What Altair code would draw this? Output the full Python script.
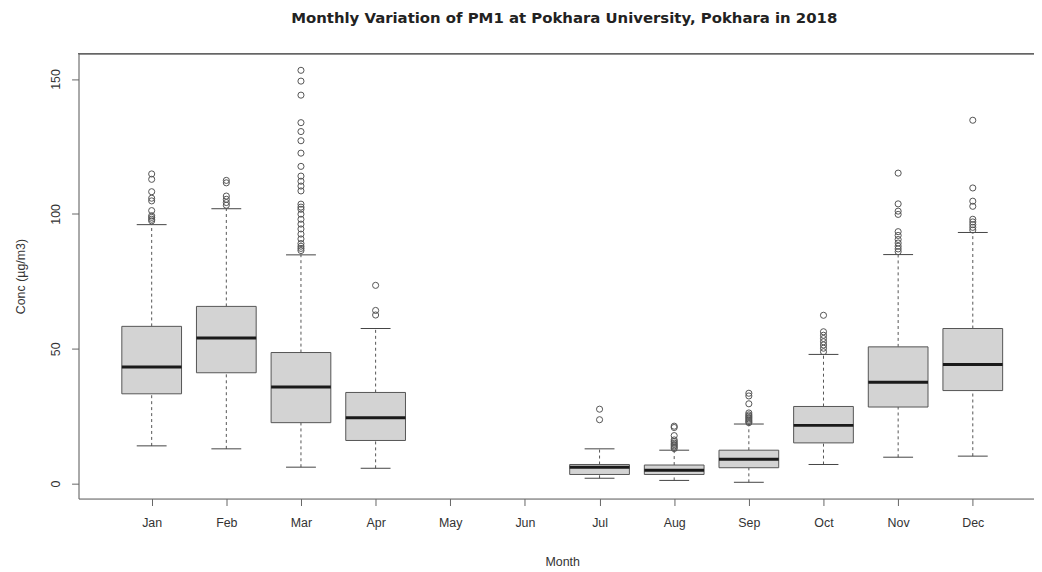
import altair as alt
import pandas as pd

months = ["Jan", "Feb", "Mar", "Apr", "May", "Jun", "Jul", "Aug", "Sep", "Oct", "Nov", "Dec"]

# Box statistics (months with data; May and Jun have none)
box_months = ["Jan", "Feb", "Mar", "Apr", "Jul", "Aug", "Sep", "Oct", "Nov", "Dec"]
whisker_low = [14.0, 12.9, 6.1, 5.7, 2.0, 1.2, 0.5, 7.1, 9.8, 10.2]
q1 = [33.3, 41.1, 22.6, 16.0, 3.4, 3.4, 5.9, 15.1, 28.4, 34.5]
median = [43.2, 54.0, 35.8, 24.4, 6.1, 5.0, 9.0, 21.6, 37.6, 44.2]
q3 = [58.3, 65.7, 48.6, 33.8, 7.1, 6.9, 12.4, 28.6, 50.7, 57.5]
whisker_high = [96.0, 101.9, 84.8, 57.5, 12.9, 12.4, 22.1, 47.9, 84.9, 93.1]

out_jan = [114.8, 112.8, 108.2, 105.8, 104.8, 101.2, 99.3, 98.7, 98.0, 97.4]
out_feb = [112.4, 111.5, 106.6, 105.4, 104.2, 103.2]
out_mar = [153.2, 149.2, 144.0, 133.8, 130.5, 127.1, 122.5, 117.6, 114.0, 112.1,
           110.3, 108.5, 103.6, 102.5, 101.7, 99.9, 98.0, 96.2, 94.4, 92.5,
           90.7, 89.0, 88.0, 87.2, 86.4]
out_apr = [73.5, 64.2, 62.5]
out_jul = [27.6, 23.7]
out_aug = [21.3, 20.8, 17.8, 16.2, 15.6, 15.0, 14.5, 14.0, 13.5, 13.0]
out_sep = [33.5, 32.5, 29.6, 26.2, 25.5, 25.0, 24.5, 24.0, 23.5, 23.0, 22.6]
out_oct = [62.4, 56.3, 55.0, 53.8, 52.6, 51.4, 50.2, 48.9]
out_nov = [115.1, 103.7, 101.0, 99.8, 93.4, 92.0, 90.5, 89.2, 88.0, 87.0, 86.0]
out_dec = [134.7, 109.6, 104.7, 102.8, 98.0, 97.0, 96.0, 95.0, 94.0]

outlier_lists = {
    "Jan": out_jan, "Feb": out_feb, "Mar": out_mar, "Apr": out_apr,
    "Jul": out_jul, "Aug": out_aug, "Sep": out_sep, "Oct": out_oct,
    "Nov": out_nov, "Dec": out_dec,
}

box_df = pd.DataFrame({
    "month": box_months,
    "m": [months.index(b) + 1 for b in box_months],
    "lo": whisker_low, "q1": q1, "med": median, "q3": q3, "hi": whisker_high,
})
out_rows = []
for mon, vals in outlier_lists.items():
    for v in vals:
        out_rows.append({"month": mon, "m": months.index(mon) + 1, "value": v})
out_df = pd.DataFrame(out_rows)

FONT = "Liberation Sans"
W, H = 962, 448
label_expr = "[" + ",".join("'%s'" % m for m in months) + "][datum.value - 1]"

xscale = alt.Scale(domain=[0.02, 12.82], nice=False, zero=False)
yscale = alt.Scale(domain=[-5.53, 159.4], nice=False, zero=False)

xaxis = alt.Axis(values=list(range(1, 13)), labelExpr=label_expr, title="Month",
                 grid=False, domainColor="#666", tickColor="#666", tickSize=7,
                 labelPadding=11, labelFont=FONT, labelFontSize=12.5, labelColor="#333",
                 labelFlush=False, labelOverlap=False,
                 titleFont=FONT, titleFontSize=12.5, titleFontWeight="normal",
                 titleColor="#333", titleX=487, titleY=57, titleBaseline="top")
yaxis = alt.Axis(values=[0, 50, 100, 150], title="Conc (µg/m3)", grid=False,
                 domainColor="#666", tickColor="#666", tickSize=7, labelPadding=9,
                 labelAngle=270, labelAlign="center", labelBaseline="bottom",
                 labelFont=FONT, labelFontSize=12.5, labelColor="#333",
                 titleFont=FONT, titleFontSize=12.5, titleFontWeight="normal",
                 titleColor="#333", titleAngle=270, titleBaseline="bottom",
                 titleX=-51, titleY=224)

base = alt.Chart(box_df).transform_calculate(
    left="datum.m - 0.4", right="datum.m + 0.4",
    sl="datum.m - 0.2", sr="datum.m + 0.2",
)

whisk_lo = base.mark_rule(color="#555", strokeWidth=1, strokeDash=[3, 3]).encode(
    x=alt.X("m:Q", scale=xscale, axis=xaxis),
    y=alt.Y("lo:Q", scale=yscale, axis=yaxis), y2="q1:Q")
whisk_hi = base.mark_rule(color="#555", strokeWidth=1, strokeDash=[3, 3]).encode(
    x=alt.X("m:Q", scale=xscale, axis=xaxis),
    y=alt.Y("q3:Q", scale=yscale, axis=yaxis), y2="hi:Q")
staple_lo = base.mark_rule(color="#444", strokeWidth=1).encode(
    x=alt.X("sl:Q", scale=xscale, axis=xaxis), x2="sr:Q",
    y=alt.Y("lo:Q", scale=yscale, axis=yaxis))
staple_hi = base.mark_rule(color="#444", strokeWidth=1).encode(
    x=alt.X("sl:Q", scale=xscale, axis=xaxis), x2="sr:Q",
    y=alt.Y("hi:Q", scale=yscale, axis=yaxis))
boxes = base.mark_rect(fill="#d3d3d3", stroke="#555", strokeWidth=1).encode(
    x=alt.X("left:Q", scale=xscale, axis=xaxis), x2="right:Q",
    y=alt.Y("q1:Q", scale=yscale, axis=yaxis), y2="q3:Q")
medians = base.mark_rule(color="#1a1a1a", strokeWidth=3, strokeCap="butt").encode(
    x=alt.X("left:Q", scale=xscale, axis=xaxis), x2="right:Q",
    y=alt.Y("med:Q", scale=yscale, axis=yaxis))
points = alt.Chart(out_df).mark_point(shape="circle", filled=False, color="#555",
                                      strokeWidth=1, size=38, opacity=1).encode(
    x=alt.X("m:Q", scale=xscale, axis=xaxis),
    y=alt.Y("value:Q", scale=yscale, axis=yaxis))
frame_top = alt.Chart(box_df).mark_rule(color="#666", strokeWidth=1).encode(
    x=alt.value(0), x2=alt.value(W), y=alt.value(0))

chart = alt.layer(whisk_lo, whisk_hi, staple_lo, staple_hi, boxes, medians, points,
                  frame_top).properties(
    width=W, height=H,
    autosize=alt.AutoSizeParams(type="none"),
    padding={"left": 71, "top": 44, "right": 0, "bottom": 68},
    title=alt.TitleParams("Monthly Variation of PM1 at Pokhara University, Pokhara in 2018",
                          font="DejaVu Sans", fontSize=15, fontWeight="bold", color="#222",
                          anchor="middle", dx=8, offset=27),
).configure_view(stroke="transparent").configure(background="white")

chart.save("out.html", embed_options={"renderer": "svg", "actions": False})
